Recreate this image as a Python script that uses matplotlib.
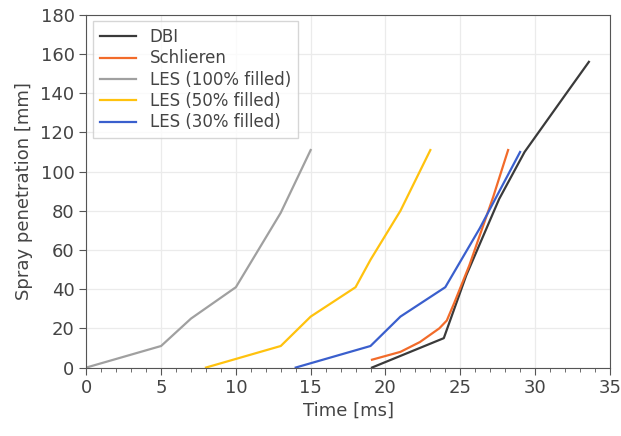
import matplotlib.pyplot as plt
from matplotlib.ticker import MultipleLocator

# spray penetration curves, time in ms, penetration in mm
t_dbi = [19.1, 23.9, 25.4, 27.6, 29.3, 32.1, 33.6]
s_dbi = [0, 15, 47, 86, 110, 140, 156]

t_schl = [19.1, 21.0, 22.3, 23.6, 24.1, 24.6, 25.6, 27.2, 28.2]
s_schl = [4, 8, 13, 20, 24, 33, 52, 87, 111]

t_les100 = [0, 5, 7, 10, 13, 15]
s_les100 = [0, 11, 25, 41, 79, 111]

t_les50 = [8, 13, 15, 18, 19, 21, 23]
s_les50 = [0, 11, 26, 41, 55, 80, 111]

t_les30 = [14, 19, 21, 24, 26.3, 29]
s_les30 = [0, 11, 26, 41, 71, 110]

labels = ["DBI", "Schlieren", "LES (100% filled)", "LES (50% filled)", "LES (30% filled)"]
colors = ["#3a3a3a", "#f26b2a", "#a0a0a0", "#ffc20e", "#3a5fcd"]

fig, ax = plt.subplots(figsize=(6.21, 4.36), dpi=100)
fig.subplots_adjust(left=0.139, right=0.982, top=0.966, bottom=0.157)

series = [(t_dbi, s_dbi), (t_schl, s_schl), (t_les100, s_les100),
          (t_les50, s_les50), (t_les30, s_les30)]
for (t, s), lab, c in zip(series, labels, colors):
    ax.plot(t, s, color=c, lw=1.6, label=lab)

ax.set_xlim(0, 35)
ax.set_ylim(0, 180)
ax.xaxis.set_major_locator(MultipleLocator(5))
ax.xaxis.set_minor_locator(MultipleLocator(1))
ax.yaxis.set_major_locator(MultipleLocator(20))
ax.grid(True, color="#ebebeb", lw=0.9)
ax.set_axisbelow(True)
for sp in ax.spines.values():
    sp.set_color("#555555")
ax.tick_params(which="both", colors="#555555", labelcolor="#444444", labelsize=13)
ax.tick_params(which="major", length=5)
ax.tick_params(which="minor", length=3)

ax.set_xlabel("Time [ms]", fontsize=13, color="#444444", labelpad=3)
ax.set_ylabel("Spray penetration [mm]", fontsize=13, color="#444444", labelpad=5)

leg = ax.legend(loc="upper left", fontsize=12, handlelength=2.2, frameon=True,
                fancybox=False, borderaxespad=0.4, labelspacing=0.2)
leg.get_frame().set_edgecolor("#cccccc")
for txt in leg.get_texts():
    txt.set_color("#444444")

fig.savefig("out.png")
